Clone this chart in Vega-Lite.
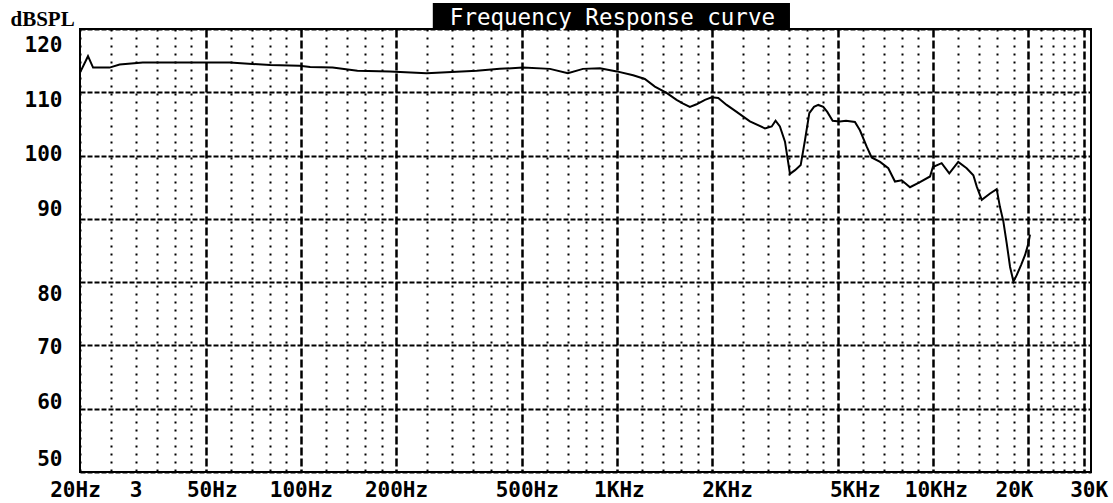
{
  "$schema": "https://vega.github.io/schema/vega-lite/v6.json",
  "width": 1011,
  "height": 443,
  "autosize": {"type": "none"},
  "padding": {"left": 80, "top": 29, "right": 22, "bottom": 31},
  "background": "white",
  "config": {"view": {"stroke": "black", "strokeWidth": 2}},
  "layer": [
    {
      "data": {"values": [{"title": "Frequency Response curve"}]},
      "mark": {"type": "rect", "color": "black", "opacity": 1},
      "encoding": {
        "x": {"datum": 261.5, "type": "quantitative"},
        "x2": {"datum": 3530},
        "y": {"datum": 124.1, "type": "quantitative"},
        "y2": {"datum": 120}
      }
    },
    {
      "data": {"values": [{"title": "Frequency Response curve"}]},
      "mark": {"type": "text", "color": "white", "font": "DejaVu Sans Mono", "fontSize": 22.5, "fontWeight": "normal", "align": "center", "baseline": "alphabetic"},
      "encoding": {
        "x": {"datum": 968, "type": "quantitative"},
        "y": {"datum": 120.63, "type": "quantitative"},
        "text": {"field": "title"}
      }
    },
    {
      "data": {
        "values": [
          {"freq": 20, "spl": 113.1}, {"freq": 21.2, "spl": 115.7}, {"freq": 22, "spl": 113.9},
          {"freq": 24.8, "spl": 113.9}, {"freq": 26.7, "spl": 114.4}, {"freq": 31.6, "spl": 114.7},
          {"freq": 59.6, "spl": 114.7}, {"freq": 80, "spl": 114.3}, {"freq": 99, "spl": 114.2},
          {"freq": 107, "spl": 114.0}, {"freq": 126, "spl": 113.9}, {"freq": 151, "spl": 113.4},
          {"freq": 191, "spl": 113.3}, {"freq": 250, "spl": 113.0}, {"freq": 269, "spl": 113.1},
          {"freq": 360, "spl": 113.4}, {"freq": 426, "spl": 113.7}, {"freq": 504, "spl": 113.9},
          {"freq": 614, "spl": 113.7}, {"freq": 700, "spl": 113.0}, {"freq": 781, "spl": 113.7},
          {"freq": 884, "spl": 113.8}, {"freq": 1000, "spl": 113.3}, {"freq": 1126, "spl": 112.7},
          {"freq": 1226, "spl": 112.1}, {"freq": 1319, "spl": 110.9}, {"freq": 1436, "spl": 109.9},
          {"freq": 1545, "spl": 108.8}, {"freq": 1621, "spl": 108.2}, {"freq": 1702, "spl": 107.7},
          {"freq": 1787, "spl": 108.1}, {"freq": 1900, "spl": 108.8}, {"freq": 1995, "spl": 109.2},
          {"freq": 2093, "spl": 109.1}, {"freq": 2225, "spl": 108.0}, {"freq": 2393, "spl": 106.9},
          {"freq": 2636, "spl": 105.4}, {"freq": 2942, "spl": 104.3}, {"freq": 3090, "spl": 104.6},
          {"freq": 3178, "spl": 105.5}, {"freq": 3280, "spl": 104.6}, {"freq": 3404, "spl": 102.2},
          {"freq": 3530, "spl": 97.1}, {"freq": 3663, "spl": 97.7}, {"freq": 3817, "spl": 98.5},
          {"freq": 3940, "spl": 102.5}, {"freq": 4064, "spl": 106.7}, {"freq": 4205, "spl": 107.7},
          {"freq": 4339, "spl": 108.0}, {"freq": 4499, "spl": 107.7}, {"freq": 4632, "spl": 106.9},
          {"freq": 4818, "spl": 105.5}, {"freq": 5080, "spl": 105.4}, {"freq": 5310, "spl": 105.5},
          {"freq": 5667, "spl": 105.3}, {"freq": 5877, "spl": 104.0}, {"freq": 6175, "spl": 101.4},
          {"freq": 6400, "spl": 99.7}, {"freq": 6806, "spl": 99.0}, {"freq": 7226, "spl": 98.0},
          {"freq": 7586, "spl": 95.9}, {"freq": 7966, "spl": 96.1}, {"freq": 8465, "spl": 95.0},
          {"freq": 9100, "spl": 95.8}, {"freq": 9795, "spl": 96.7}, {"freq": 10000, "spl": 98.2},
          {"freq": 10660, "spl": 98.8}, {"freq": 11270, "spl": 97.2}, {"freq": 12030, "spl": 99.0},
          {"freq": 12790, "spl": 98.0}, {"freq": 13430, "spl": 96.9}, {"freq": 13770, "spl": 95.1},
          {"freq": 14280, "spl": 93.0}, {"freq": 15170, "spl": 94.0}, {"freq": 15920, "spl": 94.7},
          {"freq": 16300, "spl": 91.9}, {"freq": 16710, "spl": 89.6}, {"freq": 17130, "spl": 86.1},
          {"freq": 17550, "spl": 82.4}, {"freq": 17990, "spl": 80.1}, {"freq": 18420, "spl": 81.1},
          {"freq": 19010, "spl": 82.7}, {"freq": 19580, "spl": 84.3}, {"freq": 20050, "spl": 86.1},
          {"freq": 20290, "spl": 87.5}
        ]
      },
      "mark": {"type": "line", "color": "black", "strokeWidth": 2},
      "encoding": {
        "x": {
          "field": "freq",
          "type": "quantitative",
          "scale": {"type": "log", "domain": [20, 31650], "nice": false},
          "axis": {
            "values": [20, 25, 30, 35, 40, 45, 50, 60, 70, 80, 90, 100, 120, 140, 160, 180, 200, 250, 300, 350, 400, 450, 500, 600, 700, 800, 900, 1000, 1200, 1400, 1600, 1800, 2000, 2500, 3000, 3500, 4000, 4500, 5000, 6000, 7000, 8000, 9000, 10000, 12000, 14000, 16000, 18000, 20000, 22000, 24000, 26000, 28000, 30000],
            "title": null,
            "domain": false,
            "ticks": false,
            "labelPadding": 7,
            "labelFont": "DejaVu Sans Mono",
            "labelFontSize": 21,
            "labelFontWeight": "bold",
            "labelColor": "black",
            "labelOverlap": false,
            "labelFlush": false,
            "labelBound": false,
            "labelExpr": "datum.value == 20 ? '20Hz' : datum.value == 30 ? '3' : datum.value == 50 ? '50Hz' : datum.value == 100 ? '100Hz' : datum.value == 200 ? '200Hz' : datum.value == 500 ? '500Hz' : datum.value == 1000 ? '1KHz' : datum.value == 2000 ? '2KHz' : datum.value == 5000 ? '5KHz' : datum.value == 10000 ? '10KHz' : datum.value == 20000 ? '20K' : datum.value == 30000 ? '30K' : ''",
            "labelOffset": {
              "condition": [
                {"test": "datum.value == 20", "value": -5},
                {"test": "datum.value == 50", "value": 6},
                {"test": "datum.value == 500", "value": 5},
                {"test": "datum.value == 1000", "value": 2},
                {"test": "datum.value == 2000", "value": 15},
                {"test": "datum.value == 5000", "value": 17},
                {"test": "datum.value == 10000", "value": 3},
                {"test": "datum.value == 20000", "value": -14},
                {"test": "datum.value == 30000", "value": 5}
              ],
              "value": 0
            },
            "grid": true,
            "gridColor": "black",
            "gridOpacity": 1,
            "gridDash": {
              "condition": {"test": "indexof([50, 100, 200, 500, 1000, 2000, 5000, 10000, 20000, 30000], datum.value) >= 0", "value": [8, 3]},
              "value": [2, 6]
            },
            "gridWidth": {
              "condition": {"test": "indexof([50, 100, 200, 500, 1000, 2000, 5000, 10000, 20000, 30000], datum.value) >= 0", "value": 2.5},
              "value": 2
            }
          }
        },
        "y": {
          "field": "spl",
          "type": "quantitative",
          "scale": {"domain": [50, 120], "nice": false, "zero": false},
          "axis": {
            "values": [50, 55, 60, 65, 70, 75, 80, 85, 90, 95, 100, 105, 110, 115, 120],
            "title": "dBSPL",
            "titleAngle": 0,
            "titleAlign": "left",
            "titleBaseline": "alphabetic",
            "titleX": -70,
            "titleY": -4,
            "titleFont": "Liberation Serif",
            "titleFontSize": 21,
            "titleFontWeight": "bold",
            "titleColor": "black",
            "domain": false,
            "ticks": false,
            "labelPadding": 18,
            "labelFont": "DejaVu Sans Mono",
            "labelFontSize": 21,
            "labelFontWeight": "bold",
            "labelColor": "black",
            "labelOverlap": false,
            "labelFlush": false,
            "labelBound": false,
            "labelExpr": "datum.value % 10 == 0 ? datum.value : ''",
            "labelOffset": {
              "condition": [
                {"test": "datum.value == 120", "value": 16},
                {"test": "datum.value == 110", "value": 8},
                {"test": "datum.value == 100", "value": -1},
                {"test": "datum.value == 90", "value": -9},
                {"test": "datum.value == 80", "value": 12},
                {"test": "datum.value == 70", "value": 2},
                {"test": "datum.value == 60", "value": -6},
                {"test": "datum.value == 50", "value": -13}
              ],
              "value": 0
            },
            "grid": true,
            "gridColor": "black",
            "gridOpacity": 1,
            "gridDash": {
              "condition": {"test": "datum.value % 10 == 0", "value": [5, 2]},
              "value": [2, 5]
            },
            "gridWidth": 2
          }
        }
      }
    }
  ]
}
